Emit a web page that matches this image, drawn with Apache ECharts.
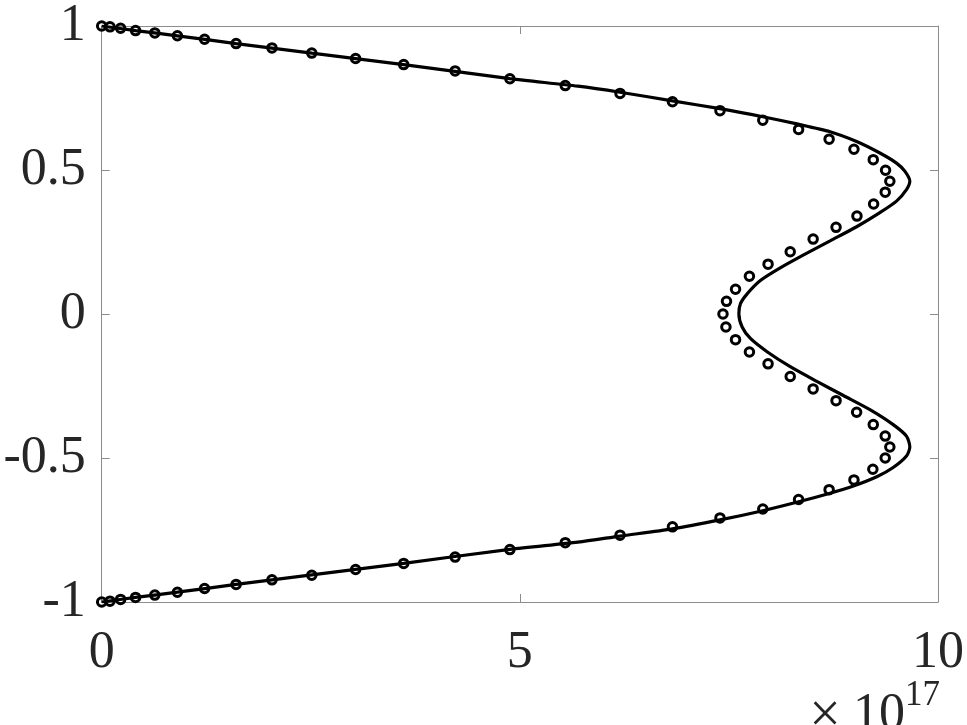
<!DOCTYPE html>
<html>
<head>
<meta charset="utf-8">
<script src="https://cdn.jsdelivr.net/npm/echarts@6/dist/echarts.min.js"></script>
<style>
html,body{margin:0;padding:0;background:#fff;}
#c{width:967px;height:725px;}
</style>
</head>
<body>
<div id="c"></div>
<script>
// x in units of 1e17
var xTicks = [0, 5, 10];
var yTicks = [-1, -0.5, 0, 0.5, 1];

var lineX = [0, 0.405, 0.905, 1.607, 2.512, 3.611, 4.881, 5.694, 6.198, 6.825, 7.393, 7.905, 8.313, 8.710, 9.027, 9.305, 9.504, 9.603, 9.663, 9.623, 9.504, 9.305, 9.027, 8.710, 8.393, 8.114, 7.876, 7.718, 7.638, 7.619,
             7.658, 7.757, 7.956, 8.233, 8.551, 8.869, 9.186, 9.464, 9.623, 9.663, 9.623, 9.464, 9.274, 8.988, 8.698, 8.333, 7.905, 7.393, 6.825, 6.198, 5.694, 4.881, 3.611, 2.512, 1.607, 0.905, 0.405, 0];
var lineY = [1, 0.984, 0.966, 0.939, 0.906, 0.866, 0.817, 0.791, 0.770, 0.740, 0.713, 0.685, 0.660, 0.633, 0.599, 0.559, 0.524, 0.496, 0.461, 0.432, 0.392, 0.352, 0.303, 0.254, 0.205, 0.160, 0.116, 0.070, 0.036, 0.001,
             -0.045, -0.085, -0.131, -0.183, -0.234, -0.283, -0.332, -0.384, -0.424, -0.462, -0.493, -0.533, -0.564, -0.597, -0.623, -0.652, -0.683, -0.715, -0.746, -0.771, -0.792, -0.817, -0.866, -0.906, -0.939, -0.966, -0.984, -1];

var markerX = [0, 0.099, 0.226, 0.405, 0.635, 0.905, 1.230, 1.607, 2.036, 2.512, 3.036, 3.611, 4.226, 4.881, 5.543,
               6.198, 6.825, 7.393, 7.905, 8.333, 8.698, 8.995, 9.226, 9.373, 9.424, 9.369, 9.230, 9.031, 8.781, 8.507, 8.233, 7.968, 7.745, 7.579, 7.471, 7.429,
               7.464, 7.579, 7.745, 7.968, 8.233, 8.507, 8.781, 9.027, 9.226, 9.369, 9.424, 9.369, 9.221, 8.995, 8.698, 8.333, 7.905, 7.393, 6.825, 6.198,
               5.543, 4.881, 4.226, 3.611, 3.036, 2.512, 2.036, 1.607, 1.230, 0.905, 0.635, 0.405, 0.226, 0.099, 0];
var markerY = [1.0, 0.997, 0.992, 0.984, 0.976, 0.966, 0.954, 0.939, 0.924, 0.906, 0.887, 0.866, 0.844, 0.817, 0.793,
               0.766, 0.737, 0.706, 0.673, 0.641, 0.607, 0.572, 0.536, 0.499, 0.461, 0.423, 0.382, 0.340, 0.301, 0.260, 0.216, 0.173, 0.131, 0.086, 0.044, 0,
               -0.045, -0.089, -0.132, -0.173, -0.217, -0.260, -0.301, -0.341, -0.384, -0.424, -0.462, -0.500, -0.539, -0.576, -0.610, -0.644, -0.677, -0.708, -0.739, -0.768,
               -0.794, -0.818, -0.844, -0.866, -0.887, -0.907, -0.923, -0.939, -0.953, -0.966, -0.976, -0.984, -0.991, -0.997, -1.0];

var lineData = lineX.map(function (x, i) { return [x, lineY[i]]; });
var markerData = markerX.map(function (x, i) { return [x, markerY[i]]; });

var FONT = 'Liberation Serif';
var AX = '#8c8c8c';
var TXT = '#262626';

function fmt(v) { return String(v); }

var chart = echarts.init(document.getElementById('c'), null, {renderer: 'canvas'});
chart.setOption({
  animation: false,
  backgroundColor: '#fff',
  grid: {left: 101.7, right: 25.3, top: 22, bottom: 123, containLabel: false},
  xAxis: [{
    type: 'value', min: xTicks[0], max: xTicks[xTicks.length - 1], interval: 5, position: 'bottom',
    axisLine: {show: true, onZero: false, lineStyle: {color: AX, width: 1}},
    axisTick: {show: true, inside: true, length: 8, lineStyle: {color: AX}},
    axisLabel: {show: true, margin: 25, fontFamily: FONT, fontSize: 52, color: TXT, formatter: fmt},
    splitLine: {show: false}
  }, {
    type: 'value', min: xTicks[0], max: xTicks[xTicks.length - 1], interval: 5, position: 'top',
    axisLine: {show: true, onZero: false, lineStyle: {color: AX, width: 1}},
    axisTick: {show: true, inside: true, length: 8, lineStyle: {color: AX}},
    axisLabel: {show: false}, splitLine: {show: false}
  }],
  yAxis: [{
    type: 'value', min: yTicks[0], max: yTicks[yTicks.length - 1], interval: 0.5, position: 'left',
    axisLine: {show: true, onZero: false, lineStyle: {color: AX, width: 1}},
    axisTick: {show: true, inside: true, length: 8, lineStyle: {color: AX}},
    axisLabel: {show: true, margin: 16, fontFamily: FONT, fontSize: 52, color: TXT, formatter: fmt, padding: [0, 0, 4, 0]},
    splitLine: {show: false}
  }, {
    type: 'value', min: yTicks[0], max: yTicks[yTicks.length - 1], interval: 0.5, position: 'right',
    axisLine: {show: true, onZero: false, lineStyle: {color: AX, width: 1}},
    axisTick: {show: true, inside: true, length: 8, lineStyle: {color: AX}},
    axisLabel: {show: false}, splitLine: {show: false}
  }],
  series: [{
    type: 'line', xAxisIndex: 0, yAxisIndex: 0, data: lineData,
    showSymbol: false, smooth: 0.25, smoothMonotone: null,
    lineStyle: {color: '#000', width: 3.2}, z: 2
  }, {
    type: 'scatter', xAxisIndex: 0, yAxisIndex: 0, data: markerData,
    symbol: 'circle', symbolSize: 8.5,
    itemStyle: {color: 'rgba(0,0,0,0)', borderColor: '#000', borderWidth: 3, opacity: 1}, z: 3
  }],
  graphic: [{
    type: 'text', x: 825, y: 689,
    style: {text: '×', fontFamily: FONT, fontSize: 56, fill: TXT, align: 'center', verticalAlign: 'top'}
  }, {
    type: 'text', x: 905, y: 689,
    style: {text: '10', fontFamily: FONT, fontSize: 52, fill: TXT, align: 'right', verticalAlign: 'top'}
  }, {
    type: 'text', x: 905, y: 678,
    style: {text: '17', fontFamily: FONT, fontSize: 35, fill: TXT, align: 'left', verticalAlign: 'top'}
  }]
});
</script>
</body>
</html>
